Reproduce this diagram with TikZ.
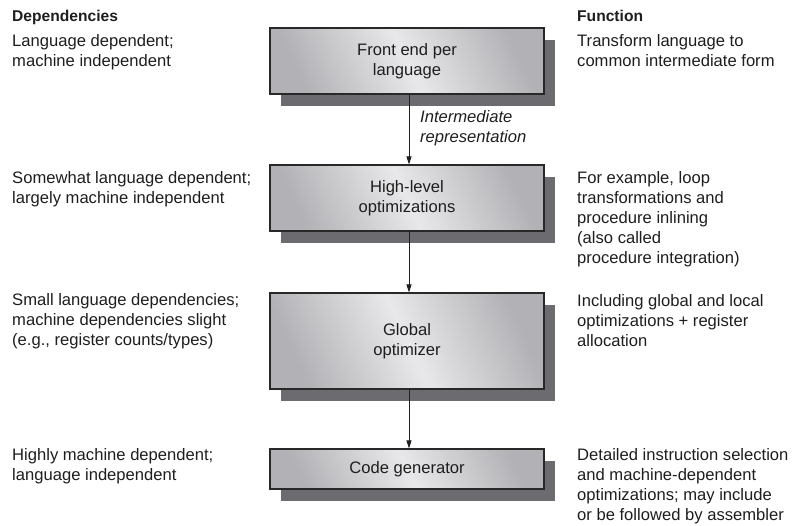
\documentclass[tikz,border=0pt]{standalone}
\usepackage{fontspec}
\setmainfont{Liberation Sans}
\usetikzlibrary{arrows.meta,shadows}
\definecolor{boxdark}{RGB}{178,178,182}
\definecolor{boxlight}{RGB}{232,232,234}
\definecolor{shadowgray}{RGB}{108,108,112}
\definecolor{edgegray}{RGB}{40,40,40}
\definecolor{txt}{RGB}{30,30,30}
\tikzset{
  txtfont/.style={font={\fontsize{16.6}{19.8}\selectfont}, text=txt},
  stagebox/.style={txtfont, rectangle, draw=edgegray, line width=1.1pt,
    left color=boxdark, right color=boxdark, middle color=boxlight, shading angle=115,
    general shadow={fill=shadowgray, shadow xshift=11pt, shadow yshift=-12pt},
    minimum width=274pt, align=center, inner sep=0pt},
  coltext/.style={txtfont, align=left, anchor=base west, inner sep=0pt},
  headtext/.style={font={\fontsize{15.6}{19}\selectfont\bfseries}, text=txt, anchor=base west, inner sep=0pt},
  flow/.style={draw=txt, line width=0.9pt, -{Triangle[length=8pt,width=5pt]}}
}
\begin{document}
\begin{tikzpicture}[x=1pt,y=-1pt]
\useasboundingbox (0,0) rectangle (801,526);
% headers
\node[headtext] (hdep) at (12,22) {Dependencies};
\node[headtext] (hfun) at (577,22) {Function};
% boxes
\node[stagebox, minimum height=66pt] (fe) at (407,61) {Front end per\\language};
\node[stagebox, minimum height=66pt] (hl) at (407,198) {High-level\\optimizations};
\node[stagebox, minimum height=96pt] (go) at (407,341) {Global\\optimizer};
\node[stagebox, minimum height=40pt] (cg) at (407,469) {Code generator};
% arrows
\draw[flow] ([xshift=2pt]fe.south) -- ([xshift=2pt]hl.north);
\draw[flow] ([xshift=2pt]hl.south) -- ([xshift=2pt]go.north);
\draw[flow] ([xshift=2pt]go.south) -- ([xshift=2pt]cg.north);
% anchors are at the baseline of the last line
\node[coltext, font={\fontsize{16.6}{19.8}\selectfont\itshape}] (ir) at (420,142.8) {Intermediate\\representation};
% left column
\node[coltext] (d1) at (12,66.8) {Language dependent;\\machine independent};
\node[coltext] (d2) at (12,203.8) {Somewhat language dependent;\\largely machine independent};
\node[coltext] (d3) at (12,345.6) {Small language dependencies;\\machine dependencies slight\\(e.g., register counts/types)};
\node[coltext] (d4) at (12,480.8) {Highly machine dependent;\\language independent};
% right column
\node[coltext] (f1) at (577,66.8) {Transform language to\\common intermediate form};
\node[coltext] (f2) at (577,263.2) {For example, loop\\transformations and\\procedure inlining\\(also called\\procedure integration)};
\node[coltext] (f3) at (577,346.6) {Including global and local\\optimizations + register\\allocation};
\node[coltext] (f4) at (577,520.4) {Detailed instruction selection\\and machine-dependent\\optimizations; may include\\or be followed by assembler};
\end{tikzpicture}
\end{document}
